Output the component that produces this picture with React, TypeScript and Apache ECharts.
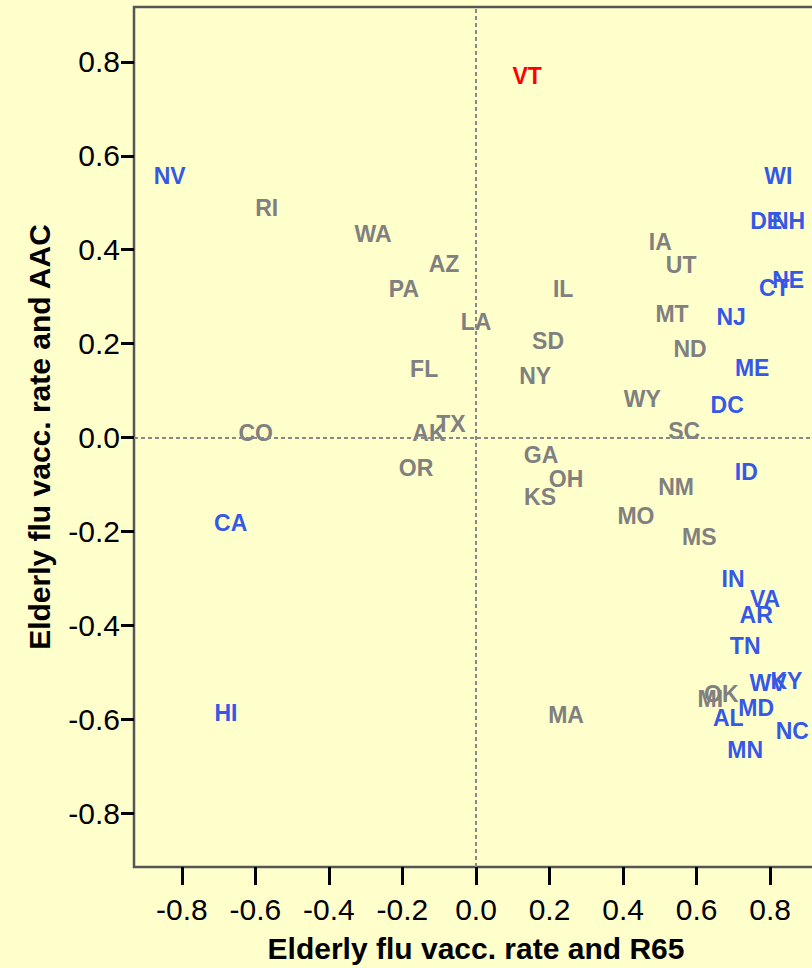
import React, { useEffect, useRef } from "react";
import * as echarts from "echarts";

const states = ["VT","NV","RI","WA","AZ","PA","LA","IL","SD","NY","FL","IA","UT","MT","ND","WY","SC","WI","DE","NH","NE","CT","NJ","ME","DC","ID","CO","AK","TX","OR","GA","OH","KS","NM","MO","MS","CA","HI","MA","IN","VA","AR","TN","WV","KY","MI","OK","MD","AL","NC","MN"];
const xValues = [0.139,-0.833,-0.569,-0.280,-0.087,-0.196,0.0,0.237,0.196,0.161,-0.141,0.501,0.558,0.533,0.582,0.452,0.566,0.822,0.789,0.850,0.849,0.811,0.694,0.751,0.683,0.735,-0.599,-0.128,-0.068,-0.163,0.177,0.245,0.174,0.544,0.435,0.607,-0.667,-0.680,0.245,0.699,0.786,0.762,0.732,0.794,0.844,0.637,0.667,0.762,0.686,0.860,0.732];
const yValues = [0.770,0.557,0.489,0.434,0.370,0.317,0.247,0.317,0.206,0.132,0.145,0.417,0.368,0.264,0.189,0.081,0.013,0.557,0.462,0.462,0.336,0.319,0.257,0.149,0.070,-0.074,0.009,0.009,0.028,-0.066,-0.038,-0.089,-0.126,-0.106,-0.168,-0.213,-0.183,-0.587,-0.591,-0.302,-0.345,-0.379,-0.445,-0.523,-0.519,-0.557,-0.547,-0.577,-0.598,-0.626,-0.666];
const groups = ["r","b","g","g","g","g","g","g","g","g","g","g","g","g","g","g","g","b","b","b","b","b","b","b","b","b","g","g","g","g","g","g","g","g","g","g","b","b","g","b","b","b","b","b","b","g","g","b","b","b","b"];
const tickValues = [-0.8,-0.6,-0.4,-0.2,0,0.2,0.4,0.6,0.8];
const xTitle = "Elderly flu vacc. rate and R65";
const yTitle = "Elderly flu vacc. rate and AAC";

const groupColors: Record<string, string> = { g: "#808080", b: "#3558e6", r: "#ff0000" };

export default function App() {
  const ref = useRef<HTMLDivElement>(null);
  useEffect(() => {
    if (!ref.current) return;
    const chart = echarts.init(ref.current, null, { renderer: "svg" });
    const font = "'Liberation Sans', Arial, sans-serif";
    const mkSeries = (g: string) => ({
      type: "scatter",
      z: 3,
      symbolSize: 0,
      silent: true,
      itemStyle: { opacity: 1 },
      data: states
        .map((s, i) => ({ name: s, value: [xValues[i], yValues[i]], g: groups[i] }))
        .filter((d) => d.g === g)
        .map((d) => ({ name: d.name, value: d.value })),
      label: {
        show: true,
        position: "inside",
        formatter: (p: any) => p.name,
        color: groupColors[g],
        opacity: 1,
        fontFamily: font,
        fontWeight: "bold",
        fontSize: 23,
      },
      emphasis: { disabled: true },
    });
    const axisCommon = {
      type: "value",
      splitLine: { show: false },
      axisLine: { show: false, onZero: false },
      axisTick: {
        show: true,
        customValues: tickValues,
        lineStyle: { color: "#000", width: 3 },
      },
      axisLabel: {
        customValues: tickValues,
        formatter: (v: number) => v.toFixed(1),
        color: "#000",
        fontFamily: font,
        fontSize: 30,
      },
      nameLocation: "middle",
      nameTextStyle: { fontFamily: font, fontSize: 30, fontWeight: "bold", color: "#000" },
    };
    chart.setOption({
      animation: false,
      backgroundColor: "#ffffcc",
      grid: {
        left: 134,
        top: 7,
        width: 684,
        height: 861,
        show: true,
        backgroundColor: "#ffffcc",
        borderColor: "#555555",
        borderWidth: 2.5,
      },
      xAxis: {
        ...axisCommon,
        min: -0.93,
        max: 0.93,
        name: xTitle,
        nameGap: 66,
        axisTick: { ...axisCommon.axisTick, length: 18 },
        axisLabel: { ...axisCommon.axisLabel, margin: 27 },
      },
      yAxis: {
        ...axisCommon,
        min: -0.915,
        max: 0.917,
        name: yTitle,
        nameGap: 80,
        axisTick: { ...axisCommon.axisTick, length: 13 },
        axisLabel: { ...axisCommon.axisLabel, margin: 14 },
      },
      series: [
        {
          type: "scatter",
          z: 1,
          data: [],
          silent: true,
          markLine: {
            silent: true,
            symbol: ["none", "none"],
            label: { show: false },
            lineStyle: { color: "#888888", width: 2, type: [4, 3] },
            data: [{ xAxis: 0 }, { yAxis: 0 }],
          },
        },
        mkSeries("g"),
        mkSeries("b"),
        mkSeries("r"),
      ],
    });
    return () => chart.dispose();
  }, []);
  return (
    <div
      style={{ position: "absolute", left: 0, top: 0, width: 812, height: 968, overflow: "hidden" }}
    >
      <div ref={ref} style={{ width: 830, height: 968 }} />
    </div>
  );
}
